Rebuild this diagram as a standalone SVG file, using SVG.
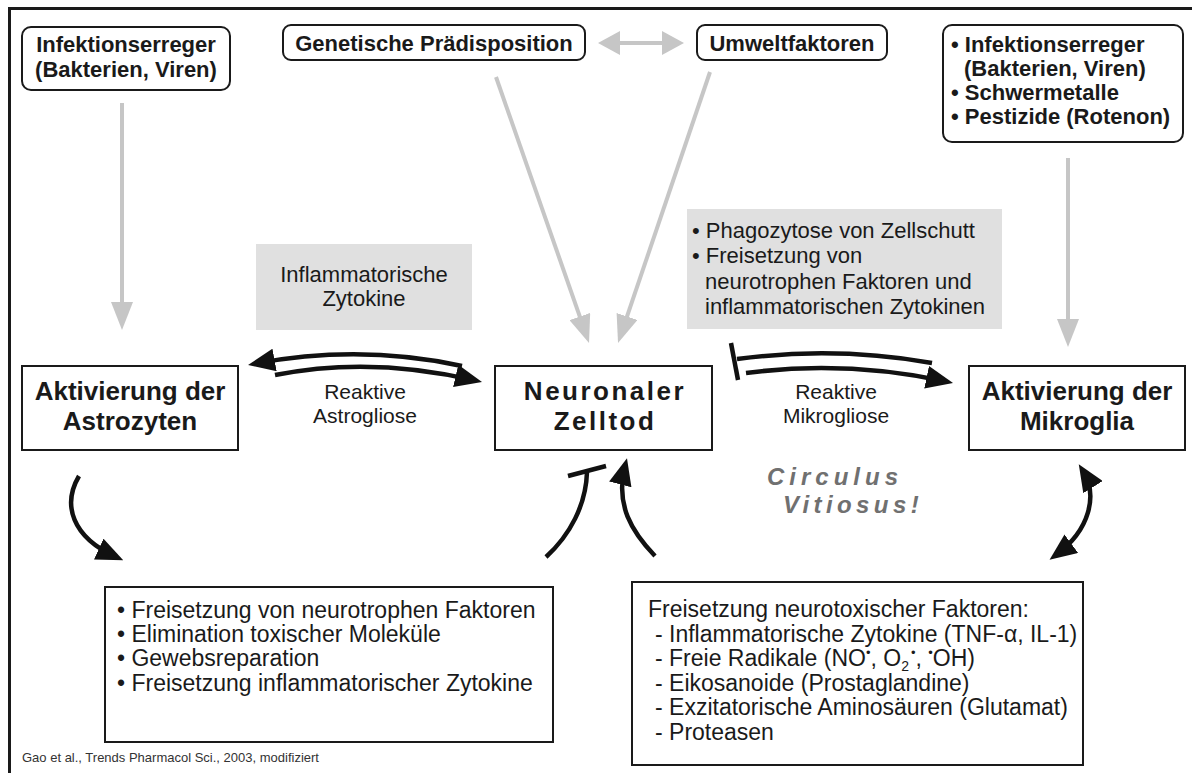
<svg xmlns="http://www.w3.org/2000/svg" width="1192" height="773" viewBox="0 0 1192 773">
<style>
text{font-family:"Liberation Sans",Arial,Helvetica,sans-serif;fill:#1a1a1a}
.b{font-weight:bold}
.s{font-size:22px}
.t{font-size:23px}
.m{font-size:26px;font-weight:bold}
.n{font-size:22px}
.r{font-size:21px}
.box{fill:#fff;stroke:#1a1a1a;stroke-width:2}
.gbox{fill:#e0e0e0;stroke:none}
.ga{fill:none;stroke:#c6c6c6;stroke-width:4}
.ba{fill:none;stroke:#111;stroke-width:4.5}
</style>
<defs>
<marker id="ah" markerUnits="userSpaceOnUse" viewBox="0 0 27 23" refX="19" refY="11.5" markerWidth="27" markerHeight="23" orient="auto-start-reverse">
<path d="M0,0 L27,11.5 L0,23 z" fill="#111"/>
</marker>
<marker id="gh" markerUnits="userSpaceOnUse" viewBox="0 0 28 22" refX="20" refY="11" markerWidth="28" markerHeight="22" orient="auto-start-reverse">
<path d="M0,0 L28,11 L0,22 z" fill="#c6c6c6"/>
</marker>
<marker id="gh2" markerUnits="userSpaceOnUse" viewBox="0 0 22 24" refX="14" refY="12" markerWidth="22" markerHeight="24" orient="auto-start-reverse">
<path d="M0,0 L22,12 L0,24 z" fill="#c6c6c6"/>
</marker>
</defs>

<path d="M9.5,773 V8.5 H1192" fill="none" stroke="#1a1a1a" stroke-width="3"/>

<g id="connectors">
<path class="ga" d="M122,103 V322" marker-end="url(#gh)"/>
<path class="ga" d="M496,77 L586.4,335.4" marker-end="url(#gh)"/>
<path class="ga" d="M710,72 L620.6,335.4" marker-end="url(#gh)"/>
<path class="ga" d="M1068,158 V339" marker-end="url(#gh)"/>
<path class="ga" d="M606,43 H676" marker-start="url(#gh2)" marker-end="url(#gh2)"/>

<path class="ba" d="M462,366 Q360,344 255.9,363.5" marker-end="url(#ah)"/>
<path class="ba" d="M275,375 Q370,356 474.2,380.2" marker-end="url(#ah)"/>

<path class="ba" d="M731,343 L738,380"/>
<path class="ba" d="M737,359 Q835,346 932,363"/>
<path class="ba" d="M746,373 Q845,360 945.2,381.3" marker-end="url(#ah)"/>

<path class="ba" d="M79,476 C62,505 72,537 116,557" marker-end="url(#ah)"/>
<path class="ba" d="M546,557 C570,535 586,505 587,472"/>
<path class="ba" d="M568,476 L606,466"/>
<path class="ba" d="M655,556 C632,532 615,505 625,466" marker-end="url(#ah)"/>
<path class="ba" d="M1083,471 C1098,495 1090,530 1056,555" marker-start="url(#ah)" marker-end="url(#ah)"/>
</g>

<g id="infektion-links">
<rect class="box" x="22" y="27" width="208" height="63" rx="9"/>
<text class="s b" x="126" y="52" text-anchor="middle">Infektionserreger</text>
<text class="s b" x="126" y="77" text-anchor="middle">(Bakterien, Viren)</text>
</g>

<g id="genetisch">
<rect class="box" x="283" y="25" width="302" height="35" rx="8"/>
<text class="s b" x="434" y="51" text-anchor="middle">Genetische Prädisposition</text>
</g>

<g id="umwelt">
<rect class="box" x="697" y="25" width="190" height="35" rx="8"/>
<text class="s b" x="792" y="51" text-anchor="middle">Umweltfaktoren</text>
</g>

<g id="infektion-rechts">
<rect class="box" x="943" y="25" width="240" height="117" rx="9"/>
<text class="s b" x="951" y="52">• Infektionserreger</text>
<text class="s b" x="964" y="76">(Bakterien, Viren)</text>
<text class="s b" x="951" y="100">• Schwermetalle</text>
<text class="s b" x="951" y="124">• Pestizide (Rotenon)</text>
</g>

<g id="zytokine-label">
<rect class="gbox" x="256" y="244" width="216" height="86"/>
<text class="n" x="364" y="282" text-anchor="middle">Inflammatorische</text>
<text class="n" x="364" y="306" text-anchor="middle">Zytokine</text>
</g>

<g id="mikroglia-label">
<rect class="gbox" x="687" y="209" width="315" height="120"/>
<text class="n" x="692" y="238">• Phagozytose von Zellschutt</text>
<text class="n" x="692" y="263">• Freisetzung von</text>
<text class="n" x="705" y="289">neurotrophen Faktoren und</text>
<text class="n" x="705" y="314">inflammatorischen Zytokinen</text>
</g>

<g id="astrozyten">
<rect class="box" x="22" y="366" width="216" height="84"/>
<text class="m" x="130" y="400" text-anchor="middle">Aktivierung der</text>
<text class="m" x="130" y="430" text-anchor="middle">Astrozyten</text>
</g>

<g id="zelltod">
<rect class="box" x="495" y="366" width="217" height="84"/>
<text class="m" x="605" y="400" text-anchor="middle" letter-spacing="2.5">Neuronaler</text>
<text class="m" x="605" y="430" text-anchor="middle" letter-spacing="2.5">Zelltod</text>
</g>

<g id="mikroglia">
<rect class="box" x="969" y="366" width="216" height="84"/>
<text class="m" x="1077" y="400" text-anchor="middle">Aktivierung der</text>
<text class="m" x="1077" y="430" text-anchor="middle">Mikroglia</text>
</g>

<g id="astrogliose-label">
<text class="r" x="365" y="399" text-anchor="middle">Reaktive</text>
<text class="r" x="365" y="423" text-anchor="middle">Astrogliose</text>
</g>

<g id="mikrogliose-label">
<text class="r" x="836" y="399" text-anchor="middle">Reaktive</text>
<text class="r" x="836" y="423" text-anchor="middle">Mikrogliose</text>
</g>

<g id="circulus">
<text x="767" y="485" font-size="24" font-weight="bold" font-style="italic" letter-spacing="5" style="fill:#707070">Circulus</text>
<text x="783" y="513" font-size="24" font-weight="bold" font-style="italic" letter-spacing="4.4" style="fill:#707070">Vitiosus!</text>
</g>

<g id="astro-effekte">
<rect class="box" x="105" y="587" width="448" height="155"/>
<text class="t" x="117" y="618">• Freisetzung von neurotrophen Faktoren</text>
<text class="t" x="117" y="642">• Elimination toxischer Moleküle</text>
<text class="t" x="117" y="666">• Gewebsreparation</text>
<text class="t" x="117" y="691">• Freisetzung inflammatorischer Zytokine</text>
</g>

<g id="neurotox-faktoren">
<rect class="box" x="632" y="582" width="451" height="183"/>
<text class="t" x="648" y="617">Freisetzung neurotoxischer Faktoren:</text>
<text class="t" x="655" y="642">- Inflammatorische Zytokine (TNF-α, IL-1)</text>
<text class="t" x="655" y="666">- Freie Radikale (NO<tspan font-size="13" dy="-9">•</tspan><tspan dy="9">, O</tspan><tspan font-size="14" dy="5">2</tspan><tspan font-size="13" dx="2" dy="-14">•</tspan><tspan dy="9">, </tspan><tspan font-size="13" dy="-9">•</tspan><tspan dy="9">OH)</tspan></text>
<text class="t" x="655" y="691">- Eikosanoide (Prostaglandine)</text>
<text class="t" x="655" y="715">- Exzitatorische Aminosäuren (Glutamat)</text>
<text class="t" x="655" y="740">- Proteasen</text>
</g>

<text x="22" y="762" font-size="13" style="fill:#333">Gao et al., Trends Pharmacol Sci., 2003, modifiziert</text>
</svg>
